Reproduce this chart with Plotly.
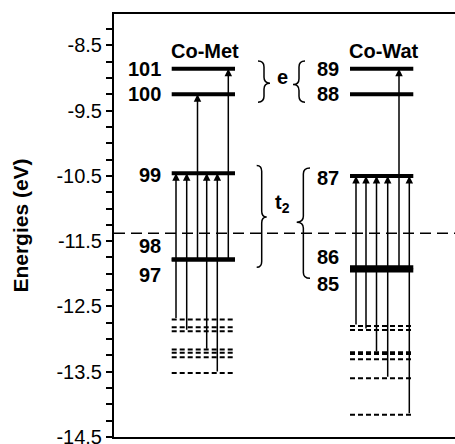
import plotly.graph_objects as go

# ---------------- data (energies in eV) ----------------
met_levels = [-8.86, -9.25, -10.46, -11.78, -11.78]
met_labels = ["101", "100", "99", "98", "97"]
met_dashed = [-12.70, -12.82, -12.88, -13.16, -13.21, -13.28, -13.52]
met_from = [-12.70, -12.88, -11.78, -13.17, -13.52, -11.78]
met_to = [-10.46, -10.46, -9.25, -10.46, -10.46, -8.86]

wat_levels = [-8.86, -9.25, -10.50, -11.90, -11.95]
wat_labels = ["89", "88", "87", "86", "85"]
wat_dashed = [-12.80, -12.86, -13.20, -13.23, -13.31, -13.60, -14.16]
wat_from = [-12.80, -12.86, -13.21, -13.60, -11.95, -14.16]
wat_to = [-10.50, -10.50, -10.50, -10.50, -8.86, -10.50]

reference_level = -11.38
energy_ticks = [-14.5, -13.5, -12.5, -11.5, -10.5, -9.5, -8.5]
energy_tick_labels = ["-14.5", "-13.5", "-12.5", "-11.5", "-10.5", "-9.5", "-8.5"]
column_names = ["Co-Met", "Co-Wat"]

# ---------------- layout constants ----------------
FONT = "Liberation Sans, Arial, sans-serif"
W, H = 455, 444
ML, MR, MT, MB = 114, 0, 14, 7
XMAX = W - ML - MR
columns = [
    dict(x0=57.7, x1=121.0, slots=[4.3, 15.0, 25.8, 35.0, 45.6, 56.6],
         label_shift=[0, 0, -2, 13, -16]),
    dict(x0=236.0, x1=299.3, slots=[6.0, 16.0, 26.5, 37.7, 49.0, 59.3],
         label_shift=[0, 0, -2, 10, -13]),
]
datasets = [
    (met_levels, met_labels, met_dashed, met_from, met_to),
    (wat_levels, wat_labels, wat_dashed, wat_from, wat_to),
]

fig = go.Figure()
annotations = []
shapes = []

for col, name, (levels, labels, dashed, frm, to) in zip(columns, column_names, datasets):
    x0, x1 = col["x0"], col["x1"]
    # solid levels
    xs, ys = [], []
    for v in levels:
        xs += [x0, x1, None]
        ys += [v, v, None]
    fig.add_trace(go.Scatter(x=xs, y=ys, mode="lines",
                             line=dict(color="black", width=4), hoverinfo="skip",
                             showlegend=False))
    # dashed levels
    xs, ys = [], []
    for v in dashed:
        xs += [x0, x1, None]
        ys += [v, v, None]
    fig.add_trace(go.Scatter(x=xs, y=ys, mode="lines",
                             line=dict(color="black", width=2, dash="5px,3px"),
                             hoverinfo="skip", showlegend=False))
    # transitions (arrows)
    for dx, a, b in zip(col["slots"], frm, to):
        annotations.append(dict(x=x0 + dx, y=b, ax=x0 + dx, ay=a, xref="x", yref="y",
                                axref="x", ayref="y", text="", showarrow=True,
                                arrowhead=2, arrowsize=1, arrowwidth=1.5,
                                arrowcolor="black", standoff=0, startstandoff=0))
    # level labels
    for v, lab, sh in zip(levels, labels, col["label_shift"]):
        annotations.append(dict(x=x0 - 9, y=v, xref="x", yref="y", text=f"<b>{lab}</b>",
                                showarrow=False, xanchor="right", yanchor="middle",
                                yshift=sh, font=dict(family=FONT, size=20, color="black")))
    # column title
    annotations.append(dict(x=(x0 + x1) / 2 + 2, y=levels[0], xref="x", yref="y",
                            text=f"<b>{name}</b>", showarrow=False, xanchor="center",
                            yanchor="middle", yshift=18,
                            font=dict(family=FONT, size=20, color="black")))


def brace_path(x_open, x_tip, y_top, y_bot, y_mid, r):
    xs = (x_open + x_tip) / 2
    return (f"M{x_open},{y_top} Q{xs},{y_top} {xs},{y_top - r} "
            f"L{xs},{y_mid + r} Q{xs},{y_mid} {x_tip},{y_mid} "
            f"Q{xs},{y_mid} {xs},{y_mid - r} "
            f"L{xs},{y_bot + r} Q{xs},{y_bot} {x_open},{y_bot}")


PAD = 0.12
R = 0.09
brace_specs = [
    # (x_open, x_tip, top level, bottom level, mid)
    (144, 156, met_levels[0], met_levels[1], -9.08),
    (191, 179, wat_levels[0], wat_levels[1], -9.10),
    (142.7, 152.7, met_levels[2], met_levels[4], -11.13),
    (196, 182.7, wat_levels[2], wat_levels[4], -11.21),
]
for xo, xt, top, bot, mid in brace_specs:
    shapes.append(dict(type="path", xref="x", yref="y",
                       path=brace_path(xo, xt, top + PAD, bot - PAD, mid, R),
                       line=dict(color="black", width=1.5)))

annotations.append(dict(x=168, y=-8.99, xref="x", yref="y", text="<b>e</b>",
                        showarrow=False, font=dict(family=FONT, size=20, color="black")))
annotations.append(dict(x=168.5, y=-10.92, xref="x", yref="y", text="<b>t<sub>2</sub></b>",
                        showarrow=False, font=dict(family=FONT, size=20, color="black")))

# reference (dashed) energy line
shapes.append(dict(type="line", xref="paper", yref="y", x0=0, x1=1,
                   y0=reference_level, y1=reference_level,
                   line=dict(color="black", width=1.5, dash="11px,6px")))

fig.update_layout(
    width=W, height=H,
    margin=dict(l=ML, r=MR, t=MT, b=MB, pad=0, autoexpand=False),
    paper_bgcolor="white", plot_bgcolor="white",
    annotations=annotations, shapes=shapes, showlegend=False,
    xaxis=dict(range=[0, XMAX], showgrid=False, zeroline=False, showticklabels=False,
               ticks="", showline=True, linecolor="black", linewidth=2, mirror=True,
               automargin=False),
    yaxis=dict(range=[-14.5, -8.02], tickmode="array", tickvals=energy_ticks,
               ticktext=energy_tick_labels, ticks="outside", ticklen=6, tickwidth=1.5,
               tickcolor="black", showgrid=False, zeroline=False, showline=True,
               linecolor="black", linewidth=2, ticklabeloverflow="allow",
               automargin=False,
               tickfont=dict(family=FONT, size=20, color="black"),
               minor=dict(tickmode="linear", tick0=-14.5, dtick=0.25, ticks="outside",
                          ticklen=6, tickwidth=1.5, tickcolor="black", showgrid=False),
               title=dict(text="<b>Energies (eV)</b>", standoff=22,
                          font=dict(family=FONT, size=21, color="black"))),
)

fig.write_html("out.html")
